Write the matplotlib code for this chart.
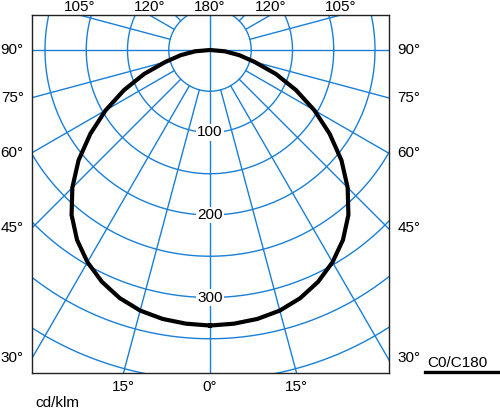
import numpy as np
import matplotlib.pyplot as plt
from matplotlib.lines import Line2D

plt.rcParams['font.family'] = ['Liberation Sans', 'DejaVu Sans']

# luminous intensity in cd/klm, C0/C180 plane, gamma measured from nadir (0 = down)
gamma = [0, 5, 10, 15, 20, 25, 30, 35, 40, 45, 50, 55, 60, 65, 70, 75, 80, 85, 90]
intensity = [334, 333, 331, 327, 320, 310, 297, 281, 261, 236, 208, 177, 146, 115, 85, 56, 36, 18, 0]

# polar grid
rings = [50, 100, 150, 200, 250, 300, 350, 400, 450]
spokes = [15, 30, 45, 60, 75, 105, 120, 135, 150, 165]
ring_labels = [100, 200, 300]
side_labels = [90, 75, 60, 45, 30]
top_labels = [105, 120]
bottom_labels = [15]

blue = '#1a7fd6'

fig = plt.figure(figsize=(5, 4.09), dpi=100)
# axes box in pixels: x 32..389, y 15..373 ; polar centre at (210, 50)
ax = fig.add_axes([32 / 500, 1 - 373 / 409, 357 / 500, 358 / 409])
k = 0.825  # px per cd/klm
x0, x1 = (32 - 210) / k, (389 - 210) / k
y0, y1 = -(373 - 50) / k, (50 - 15) / k
ax.set_xlim(x0, x1)
ax.set_ylim(y0, y1)

t = np.radians(np.linspace(0, 360, 721))
for r in rings:
    ax.plot(r * np.sin(t), r * np.cos(t), color=blue, lw=1.0, zorder=1)

for a in spokes:
    ar = np.radians(a)
    for s in (-1, 1):
        ax.plot([s * 50 * np.sin(ar), s * 700 * np.sin(ar)],
                [-50 * np.cos(ar), -700 * np.cos(ar)], color=blue, lw=1.0, zorder=1)
# axes through the centre
ax.plot([0, 0], [-700, 700], color=blue, lw=1.0, zorder=1)
ax.plot([-700, 700], [0, 0], color=blue, lw=1.0, zorder=1)

fs = 11
for v in ring_labels:
    ax.text(0, -v, str(v), ha='center', va='center', fontsize=fs, zorder=3,
            bbox=dict(facecolor='white', edgecolor='none', pad=1.0))

# curve, mirrored for C0 / C180
g = np.radians(gamma)
I = np.array(intensity)
xs = np.concatenate([-I * np.sin(g), (I * np.sin(g))[::-1]])
ys = np.concatenate([-I * np.cos(g), (-I * np.cos(g))[::-1]])
ax.plot(xs, ys, color='black', lw=3.0, zorder=4, solid_joinstyle='round')

# angle labels
for a in side_labels:
    y = 0 if a == 90 else x0 / np.tan(np.radians(a))
    ax.annotate(f'{a}°', (x0, y), xytext=(-6, 0), textcoords='offset points',
                ha='right', va='center', fontsize=fs, annotation_clip=False)
    ax.annotate(f'{a}°', (x1, y), xytext=(6, 0), textcoords='offset points',
                ha='left', va='center', fontsize=fs, annotation_clip=False)
for a in top_labels:
    x = -y1 * np.tan(np.radians(a))
    for s in (-1, 1):
        ax.annotate(f'{a}°', (s * x, y1), xytext=(0, 1), textcoords='offset points',
                    ha='center', va='bottom', fontsize=fs, annotation_clip=False)
ax.annotate('180°', (0, y1), xytext=(0, 1), textcoords='offset points',
            ha='center', va='bottom', fontsize=fs, annotation_clip=False)
for a in bottom_labels:
    x = -y0 * np.tan(np.radians(a))
    for s in (-1, 1):
        ax.annotate(f'{a}°', (s * x, y0), xytext=(0, -5), textcoords='offset points',
                    ha='center', va='top', fontsize=fs, annotation_clip=False)
ax.annotate('0°', (0, y0), xytext=(0, -5), textcoords='offset points',
            ha='center', va='top', fontsize=fs, annotation_clip=False)

ax.set_xticks([])
ax.set_yticks([])
for sp in ax.spines.values():
    sp.set_color('#222222')
    sp.set_linewidth(1.0)

fig.text(35 / 500, 1 - 403 / 409, 'cd/klm', ha='left', va='center', fontsize=11)
fig.text(427 / 500, 1 - 363 / 409, 'C0/C180', ha='left', va='center', fontsize=11)
fig.add_artist(Line2D([425 / 500, 499 / 500], [1 - 372 / 409, 1 - 372 / 409],
                      color='black', lw=2.4, transform=fig.transFigure))

fig.savefig('out.png', dpi=100)
